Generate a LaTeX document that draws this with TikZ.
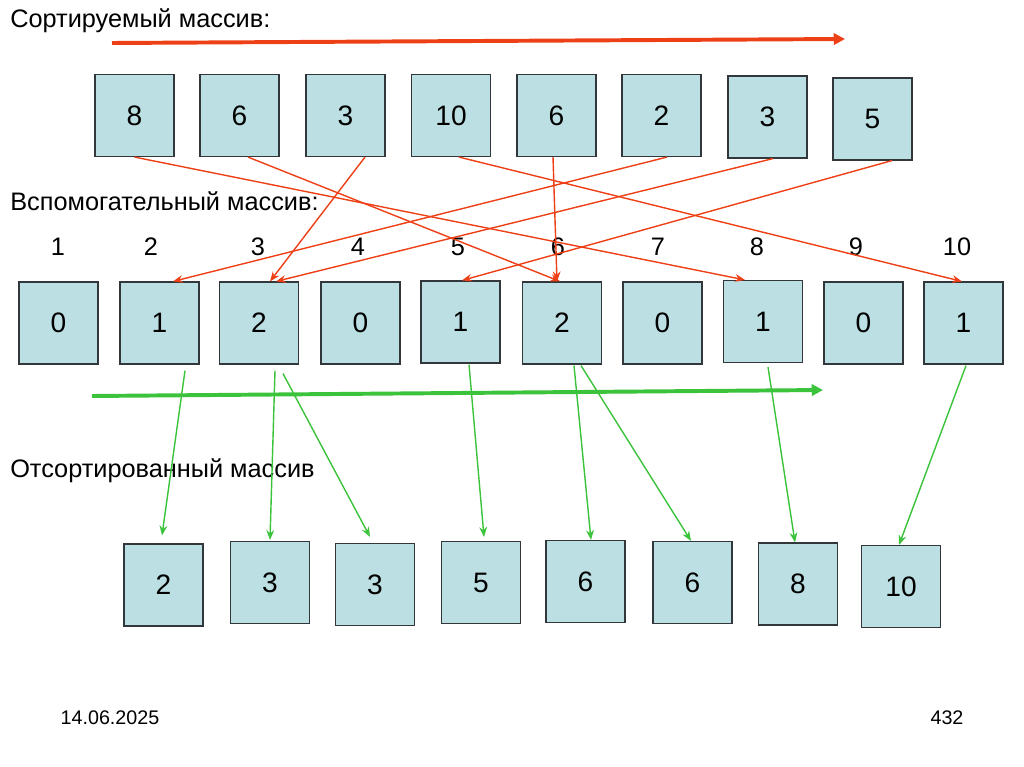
\documentclass[tikz,border=0pt]{standalone}
\usepackage{fontspec}
\setmainfont{Liberation Sans}
\usepackage{xcolor}
\usetikzlibrary{arrows.meta,calc}

\definecolor{cellfill}{RGB}{187,223,227}
\definecolor{cellline}{RGB}{50,55,60}
\definecolor{sortred}{RGB}{238,64,22}
\definecolor{countgreen}{RGB}{60,195,60}

\begin{document}
\begin{tikzpicture}[
    x=0.025cm, y=-0.025cm,
    cell/.style={draw=cellline, fill=cellfill, line width=0.8pt, minimum width=1.975cm, minimum height=2.05cm, inner sep=0pt, font=\fontsize{20}{24}\selectfont},
    head/.style={anchor=base west, inner sep=0pt, font=\fontsize{18}{22}\selectfont},
    idx/.style={inner sep=0pt, font=\fontsize{18}{22}\selectfont},
    foot/.style={inner sep=0pt, font=\fontsize{14}{16}\selectfont},
    redarrow/.style={draw=sortred, line width=1pt, -{Stealth[length=7pt,width=5.5pt]}},
    greenarrow/.style={draw=countgreen, line width=1pt, -{Stealth[length=7pt,width=5.5pt]}},
    bigred/.style={draw=sortred, line width=2.8pt, -{Triangle[length=8pt,width=8pt]}},
    biggreen/.style={draw=countgreen, line width=2.8pt, -{Triangle[length=8pt,width=8pt]}}
]
\useasboundingbox[fill=white] (0,0) rectangle (1024,767);

% Headings
\node[head] (hsrc) at (10,28) {Сортируемый массив:};
\node[head] (hcnt) at (10,211) {Вспомогательный массив:};
\node[head] (hres) at (10,477) {Отсортированный массив};

% Direction arrows
\coordinate (rs) at (112,43);
\coordinate (re) at (845,39);
\draw[bigred] (rs) -- (re);
\coordinate (gs) at (92,396);
\coordinate (ge) at (823,390);
\draw[biggreen] (gs) -- (ge);

% Row 1: input
\node[cell] (t1) at (134.5,115.5) {8};
\node[cell] (t2) at (239.5,115.5) {6};
\node[cell] (t3) at (345.5,115.5) {3};
\node[cell] (t4) at (451,115.5) {10};
\node[cell] (t5) at (556.5,115.5) {6};
\node[cell] (t6) at (661.5,115.5) {2};
\node[cell] (t7) at (767.5,117) {3};
\node[cell] (t8) at (872.5,119) {5};

% Indices
\node[idx] (i1) at (58,247) {1};
\node[idx] (i2) at (151,247) {2};
\node[idx] (i3) at (258,247) {3};
\node[idx] (i4) at (358,247) {4};
\node[idx] (i5) at (458,247) {5};
\node[idx] (i6) at (558,247) {6};
\node[idx] (i7) at (658,247) {7};
\node[idx] (i8) at (757,247) {8};
\node[idx] (i9) at (856,247) {9};
\node[idx] (i10) at (957,247) {10};

% Row 2: counts
\node[cell] (m1) at (58.5,323) {0};
\node[cell] (m2) at (159.5,323) {1};
\node[cell] (m3) at (259,323) {2};
\node[cell] (m4) at (360.5,323) {0};
\node[cell] (m5) at (460.5,322) {1};
\node[cell] (m6) at (562,323) {2};
\node[cell] (m7) at (662.5,323) {0};
\node[cell] (m8) at (763,321.5) {1};
\node[cell] (m9) at (863.5,323) {0};
\node[cell] (m10) at (963.5,323) {1};

% Row 3: output
\node[cell] (b1) at (163.5,585) {2};
\node[cell] (b2) at (270,582.5) {3};
\node[cell] (b3) at (375,584.5) {3};
\node[cell] (b4) at (481,582.5) {5};
\node[cell] (b5) at (585.5,581.5) {6};
\node[cell] (b6) at (692.5,582.5) {6};
\node[cell] (b7) at (798,584) {8};
\node[cell] (b8) at (901,586.5) {10};

% Counting arrows
\draw[redarrow] (t1.south) -- ($(m8.north)+(-18,0)$);
\draw[redarrow] ($(t2.south)+(8.5,0)$) -- ($(m6.north)+(-2,0)$);
\draw[redarrow] ($(t3.south)+(19.5,0)$) -- ($(m3.north)+(11,0)$);
\draw[redarrow] ($(t4.south)+(8,0)$) -- ($(m10.north)+(-1.5,0)$);
\draw[redarrow] ($(t5.south)+(-3.5,0)$) -- ($(m6.north)+(-5,0)$);
\draw[redarrow] ($(t6.south)+(5.5,0)$) -- ($(m2.north)+(13.5,0)$);
\draw[redarrow] ($(t7.south)+(5.5,0)$) -- ($(m3.north)+(17,0)$);
\draw[redarrow] ($(t8.south)+(19.5,0)$) -- ($(m5.north)+(1.5,0)$);

% Output arrows
\draw[greenarrow] ($(m2.south)+(25.5,6)$) -- ($(b1.north)+(-1.5,-8)$);
\draw[greenarrow] ($(m3.south)+(16,6)$) -- ($(b2.north)+(0,-1)$);
\draw[greenarrow] ($(m3.south)+(24,9)$) -- ($(b3.north)+(-5,-6)$);
\draw[greenarrow] ($(m5.south)+(8.5,1)$) -- ($(b4.north)+(3,-4)$);
\draw[greenarrow] ($(m6.south)+(12,1)$) -- ($(b5.north)+(5.5,0)$);
\draw[greenarrow] ($(m6.south)+(19,1)$) -- ($(b6.north)+(-1.5,0)$);
\draw[greenarrow] ($(m8.south)+(5,4)$) -- ($(b7.north)+(-3,0)$);
\draw[greenarrow] ($(m10.south)+(2.5,1)$) -- ($(b8.north)+(-2,0)$);

% Footer
\node[foot] (date) at (110,718) {14.06.2025};
\node[foot] (page) at (947,718) {432};
\end{tikzpicture}
\end{document}
